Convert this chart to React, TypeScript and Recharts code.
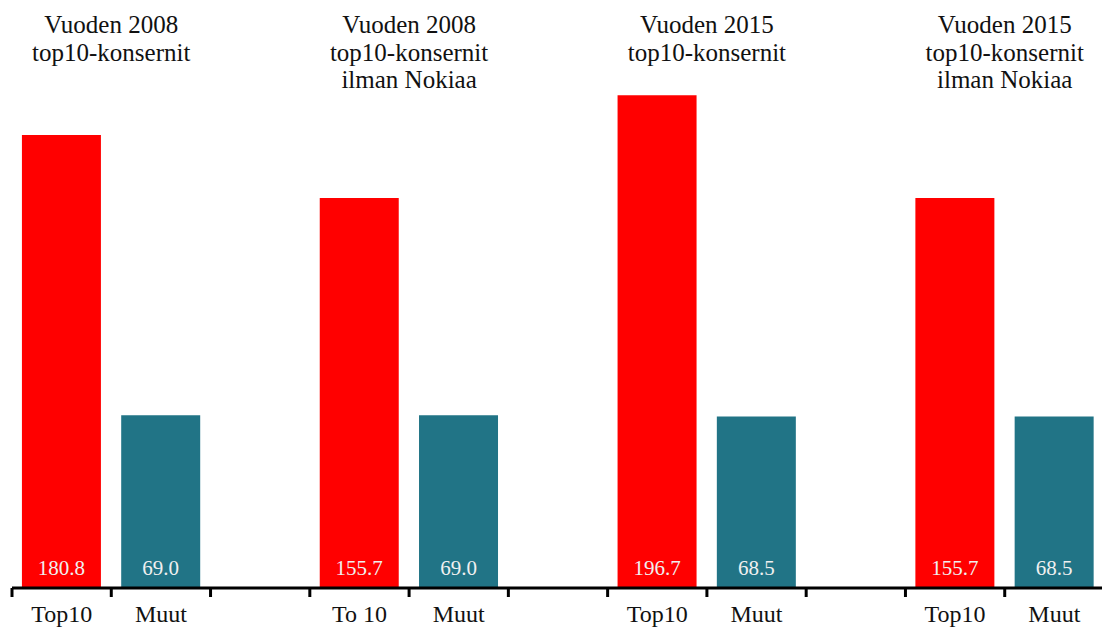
import { BarChart, Bar, XAxis, YAxis, Cell, LabelList, ReferenceLine } from "recharts"

// tick labels, one per slot (the empty slot separates the groups)
const tickLabels = ["Top10", "Muut", "", "To 10", "Muut", "", "Top10", "Muut", "", "Top10", "Muut"]
const top10Values = [180.8, 155.7, 196.7, 155.7]
const otherValues = [69.0, 69.0, 68.5, 68.5]
const groupTitles = [
  ["Vuoden 2008", "top10-konsernit"],
  ["Vuoden 2008", "top10-konsernit", "ilman Nokiaa"],
  ["Vuoden 2015", "top10-konsernit"],
  ["Vuoden 2015", "top10-konsernit", "ilman Nokiaa"],
]

const RED = "#FF0000"
const TEAL = "#217486"
const FONT = "'Liberation Serif', 'Times New Roman', serif"

const rows = tickLabels.map((label, i) => {
  const g = Math.floor(i / 3)
  const slot = i % 3
  return {
    id: `c${i}`,
    label,
    kind: slot === 0 ? "top" : slot === 1 ? "other" : "gap",
    value: slot === 0 ? top10Values[g] : slot === 1 ? otherValues[g] : null,
  }
})

const CatTick = ({ x, y, payload, index }: any) => {
  const half = payload.offset || 0
  return (
    <g>
      <line x1={x - half} x2={x - half} y1={y} y2={y + 9} stroke="#000" strokeWidth={3} />
      <text x={x} y={y + 34} textAnchor="middle" fontFamily={FONT} fontSize={24} fill="#111">
        {rows[index]?.label}
      </text>
    </g>
  )
}

const TitleLabel = ({ viewBox, lines }: any) => {
  if (!viewBox) return null
  return (
    <text x={viewBox.x} y={viewBox.y - 54} textAnchor="middle" fontFamily={FONT} fontSize={25} fill="#111">
      {lines.map((t: string, i: number) => (
        <tspan key={i} x={viewBox.x} dy={i === 0 ? 0 : 27.5}>
          {t}
        </tspan>
      ))}
    </text>
  )
}

export default function App() {
  return (
    <div style={{ position: "absolute", left: 0, top: 0, width: 1102, height: 628, overflow: "hidden", background: "#fff" }}>
      <BarChart
        width={1104}
        height={628}
        data={rows}
        margin={{ top: 87, right: 0, bottom: 0, left: 12 }}
        barCategoryGap="10%"
      >
        <XAxis
          dataKey="id"
          interval={0}
          height={40}
          tickSize={0}
          tickMargin={0}
          tickLine={false}
          axisLine={{ stroke: "#000", strokeWidth: 3 }}
          tick={<CatTick />}
        />
        <YAxis hide domain={[0, 200]} />
        {groupTitles.map((lines, g) => (
          <ReferenceLine
            key={g}
            x={rows[g * 3 + 1].id}
            position="start"
            stroke="none"
            label={<TitleLabel lines={lines} />}
          />
        ))}
        <Bar dataKey="value" isAnimationActive={false}>
          {rows.map((r) => (
            <Cell key={r.id} fill={r.kind === "top" ? RED : TEAL} />
          ))}
          <LabelList
            dataKey="value"
            position="insideBottom"
            offset={13}
            fill="#f0f0f0"
            fontFamily={FONT}
            fontSize={21}
            formatter={(v: any) => (v == null ? "" : Number(v).toFixed(1))}
          />
        </Bar>
      </BarChart>
    </div>
  )
}
